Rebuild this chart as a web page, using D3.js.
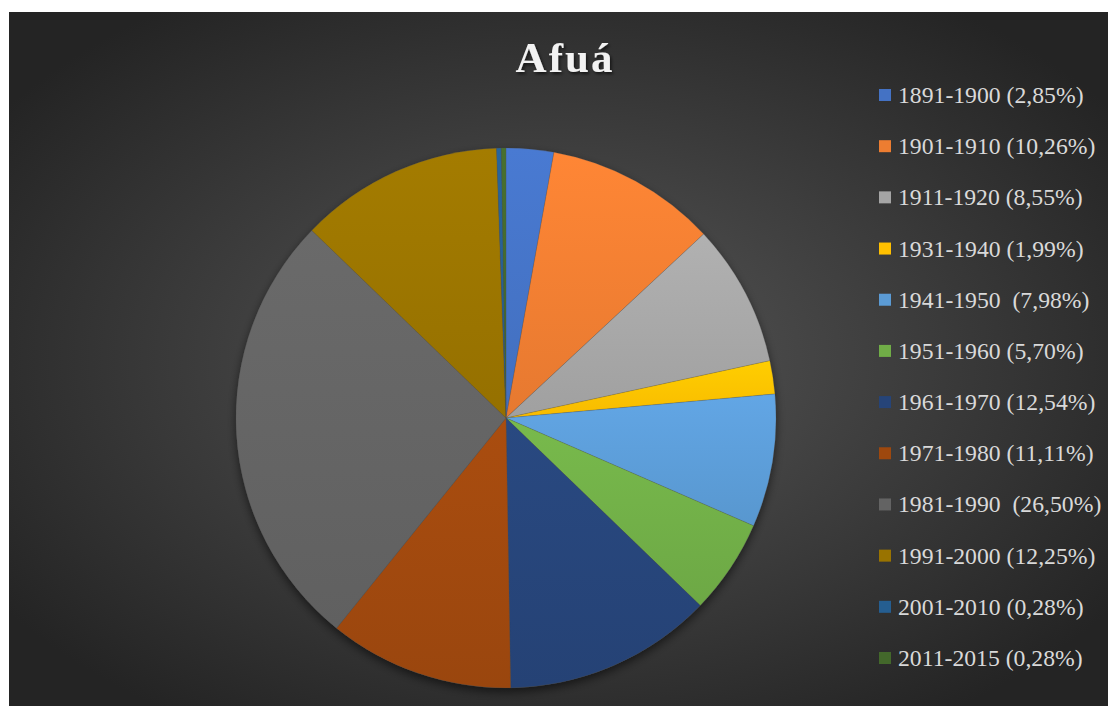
<!DOCTYPE html>
<html>
<head>
<meta charset="utf-8">
<script src="https://cdn.jsdelivr.net/npm/d3@7"></script>
<style>
  body { margin: 0; background: #fff; }
  svg { display: block; }
  text { white-space: pre; font-family: "Times New Roman", "Liberation Serif", Times, serif; }
</style>
</head>
<body>
<svg id="chart" width="1108" height="706"></svg>
<script>
// periods and shares (%)
const periods = ["1891-1900", "1901-1910", "1911-1920", "1931-1940", "1941-1950", "1951-1960",
  "1961-1970", "1971-1980", "1981-1990", "1991-2000", "2001-2010", "2011-2015"];
const shares = [2.85, 10.26, 8.55, 1.99, 7.98, 5.70, 12.54, 11.11, 26.50, 12.25, 0.28, 0.28];
const legendLabels = ["1891-1900 (2,85%)", "1901-1910 (10,26%)", "1911-1920 (8,55%)", "1931-1940 (1,99%)",
  "1941-1950  (7,98%)", "1951-1960 (5,70%)", "1961-1970 (12,54%)", "1971-1980 (11,11%)",
  "1981-1990  (26,50%)", "1991-2000 (12,25%)", "2001-2010 (0,28%)", "2011-2015 (0,28%)"];
const colors = ["#4472C4", "#ED7D31", "#A5A5A5", "#FFC000", "#5B9BD5", "#70AD47",
  "#264478", "#9E480E", "#636363", "#997300", "#255E91", "#43682B"];

const data = periods.map((p, i) => ({ period: p, value: shares[i], label: legendLabels[i] }));

const W = 1108, H = 706;
const svg = d3.select("#chart");
const defs = svg.append("defs");

// background radial gradient
const bg = defs.append("radialGradient").attr("id", "bg")
  .attr("cx", "50%").attr("cy", "50%").attr("r", "62%");
bg.append("stop").attr("offset", "0%").attr("stop-color", "#575757");
bg.append("stop").attr("offset", "100%").attr("stop-color", "#242424");

svg.append("rect").attr("x", 9).attr("y", 12).attr("width", W - 9).attr("height", H - 12)
  .attr("fill", "url(#bg)");

// shadows
const sh = defs.append("filter").attr("id", "shadow")
  .attr("x", "-20%").attr("y", "-20%").attr("width", "140%").attr("height", "140%");
sh.append("feDropShadow").attr("dx", 0).attr("dy", 4).attr("stdDeviation", 5)
  .attr("flood-color", "#000").attr("flood-opacity", 0.55);
const tsh = defs.append("filter").attr("id", "tshadow");
tsh.append("feDropShadow").attr("dx", 1.5).attr("dy", 2).attr("stdDeviation", 1.5)
  .attr("flood-color", "#000").attr("flood-opacity", 0.6);

// per-slice gradients (lighter at top)
colors.forEach((c, i) => {
  const g = defs.append("linearGradient").attr("id", "sg" + i)
    .attr("x1", 0).attr("y1", 0).attr("x2", 0).attr("y2", 1);
  g.append("stop").attr("offset", "0%").attr("stop-color", d3.color(c).brighter(0.2));
  g.append("stop").attr("offset", "100%").attr("stop-color", d3.color(c).darker(0.08));
});

// title
svg.append("text")
  .attr("x", 565).attr("y", 72)
  .attr("text-anchor", "middle")
  .style("font-weight", "bold")
  .style("font-size", "43px")
  .attr("letter-spacing", 2)
  .attr("fill", "#f2f2f2")
  .attr("filter", "url(#tshadow)")
  .text("Afuá");

// pie
const cx = 506, cy = 418, R = 270;
const pie = d3.pie().sort(null).value(d => d.value);
const arc = d3.arc().innerRadius(0).outerRadius(R);

const pg = svg.append("g").attr("transform", `translate(${cx},${cy})`);
pg.append("circle").attr("r", R).attr("fill", "#444").attr("filter", "url(#shadow)");
pg.selectAll("path.slice")
  .data(pie(data))
  .join("path")
  .attr("class", "slice")
  .attr("d", arc)
  .attr("fill", (d, i) => `url(#sg${i})`)
  .attr("stroke", "rgba(80,80,80,0.35)")
  .attr("stroke-width", 0.6);

// legend
const ly = d3.scalePoint().domain(periods).range([95, 658]);
const lg = svg.append("g");
const rows = lg.selectAll("g.row").data(data).join("g")
  .attr("class", "row")
  .attr("transform", d => `translate(879,${ly(d.period)})`);
rows.append("rect")
  .attr("x", 0).attr("y", -6).attr("width", 12).attr("height", 12)
  .attr("fill", (d, i) => colors[i]);
rows.append("text")
  .attr("x", 19).attr("y", 8)
  .style("font-size", "23.7px")
  .attr("fill", "#d9d9d9")
  .text(d => d.label);
</script>
</body>
</html>
